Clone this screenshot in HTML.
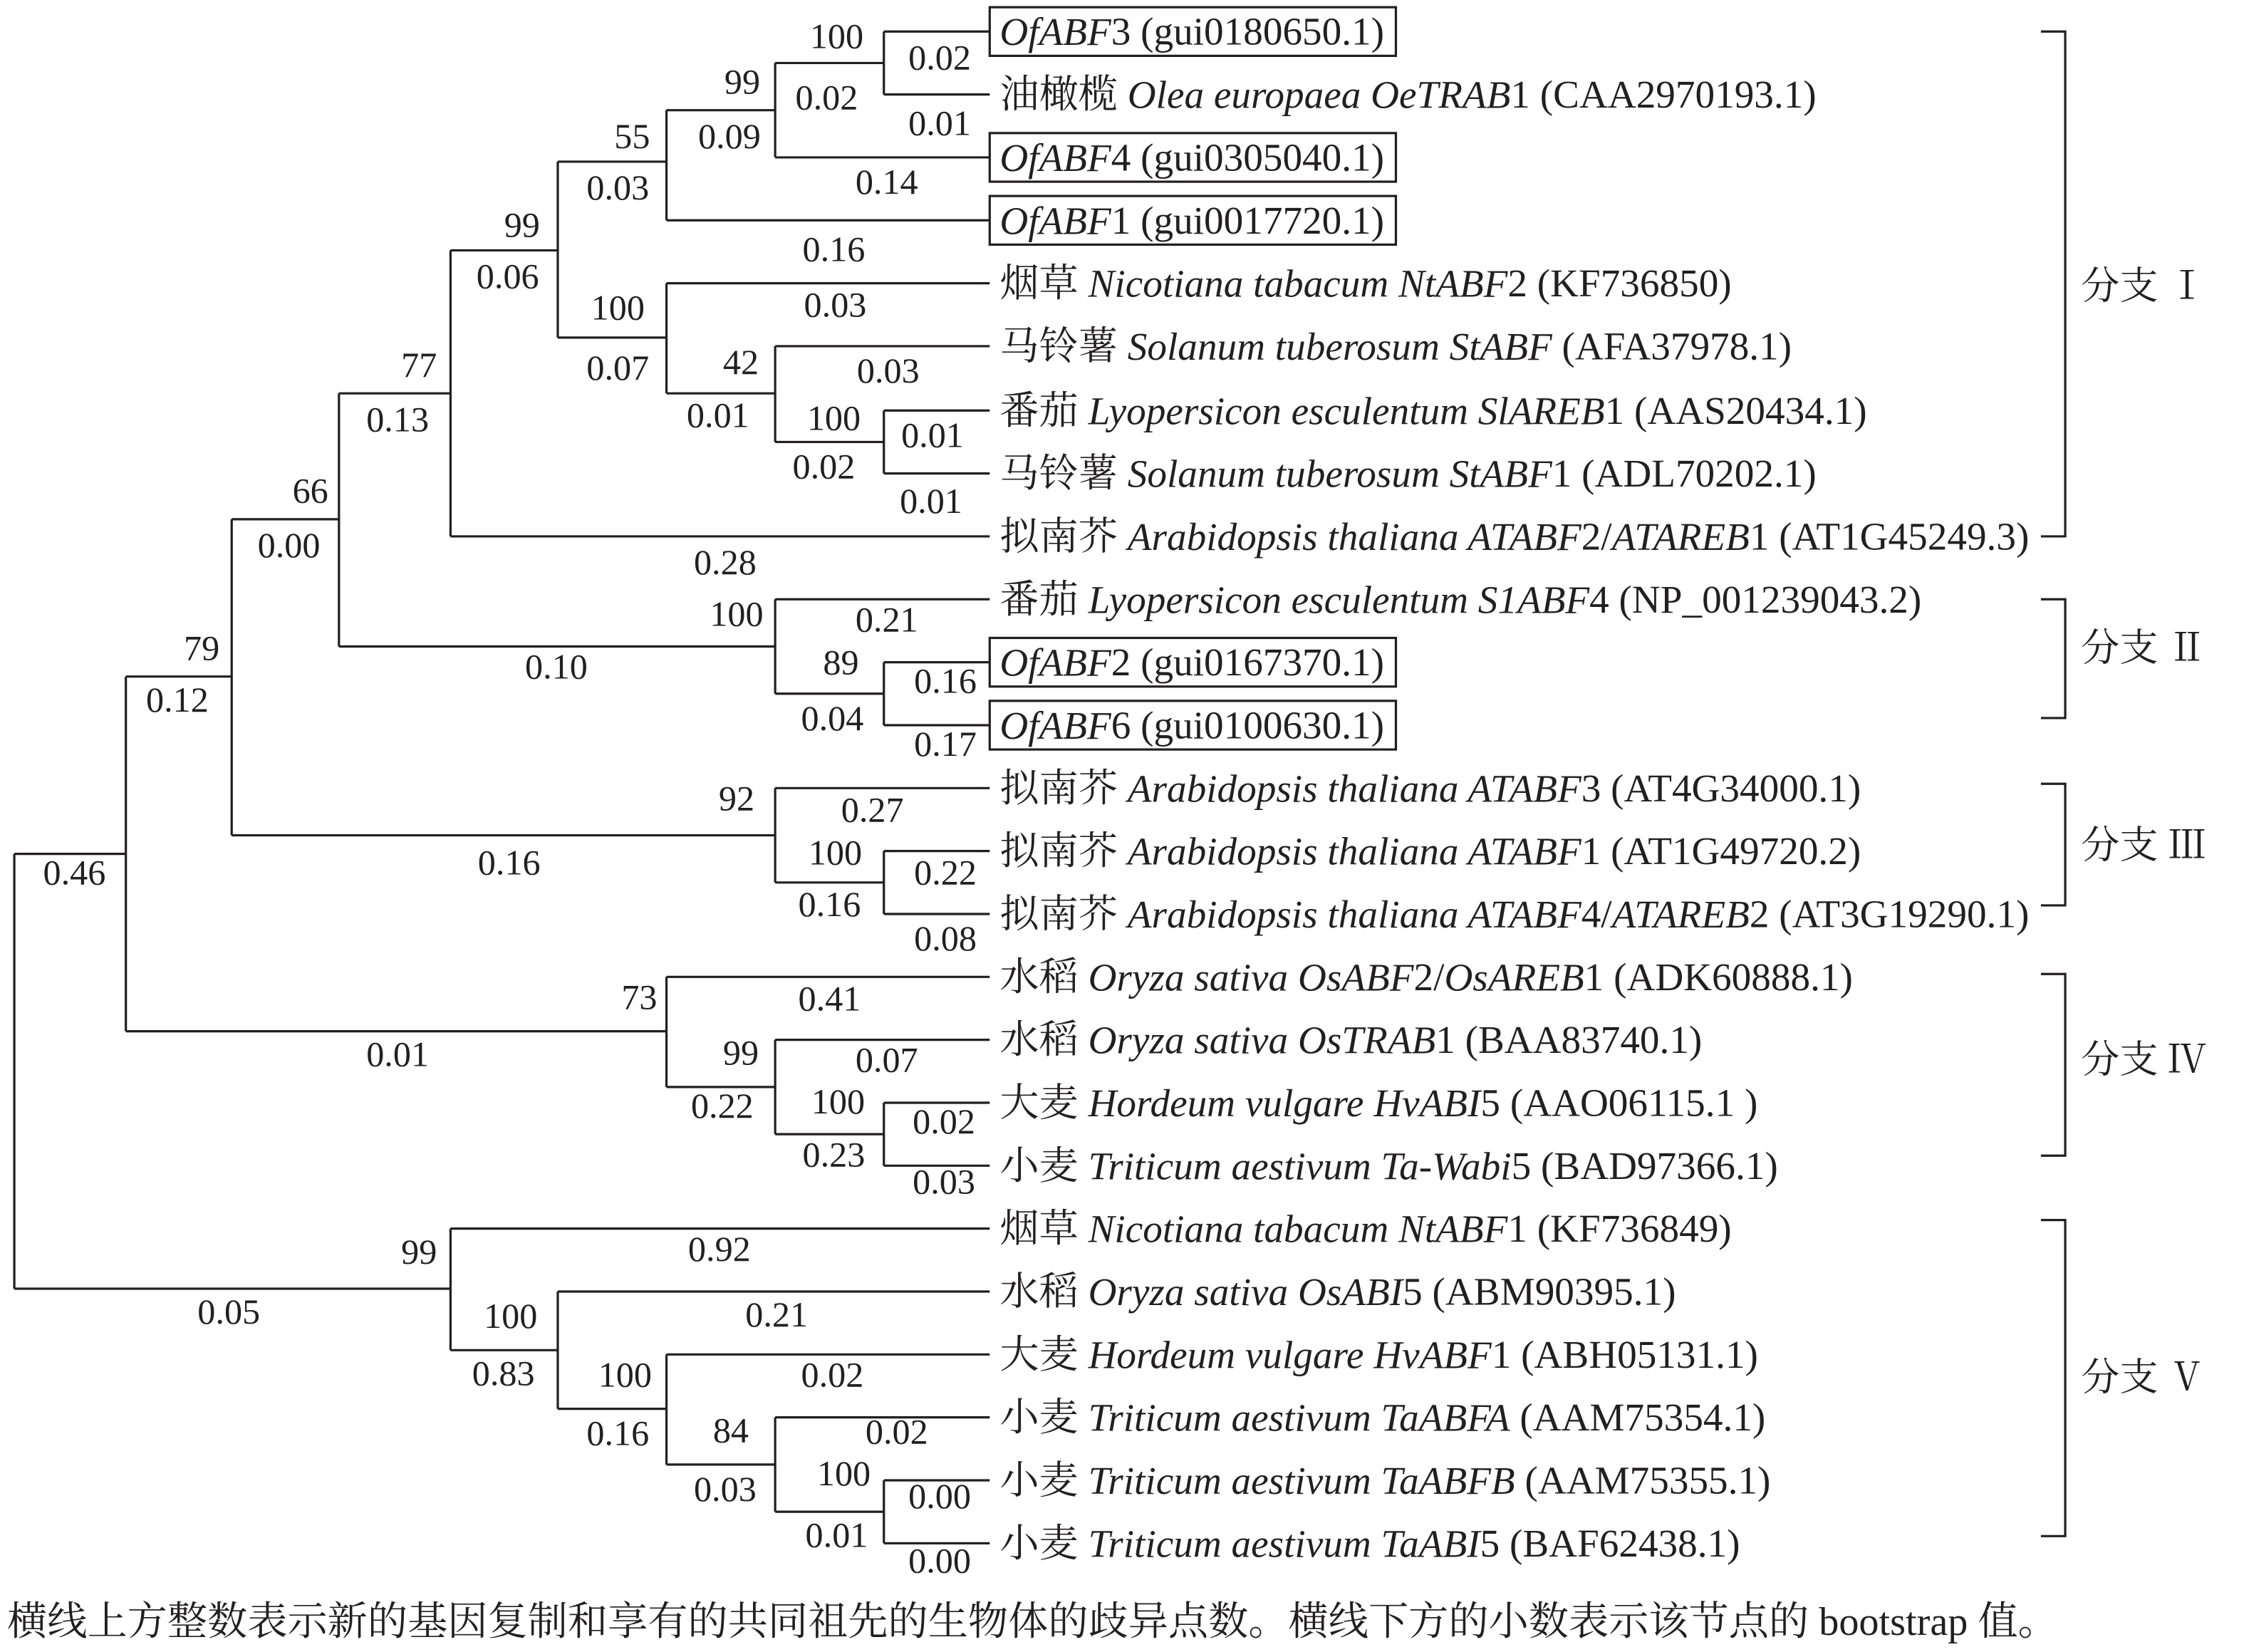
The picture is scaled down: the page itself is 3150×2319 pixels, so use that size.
<!DOCTYPE html>
<html><head><meta charset="utf-8">
<style>
html,body{margin:0;padding:0;background:#fff;}
svg{display:block;}
text{font-family:"Liberation Serif","Noto Serif CJK SC",serif;fill:#231f20;}
.n{font-size:25px;text-anchor:middle;dominant-baseline:central;}
.l{font-size:27.5px;dominant-baseline:central;}
.b{font-size:27px;dominant-baseline:central;}
</style></head><body>
<svg width="3150" height="2319" viewBox="0 0 1569 1155" xmlns="http://www.w3.org/2000/svg">
<g stroke="#231f20" stroke-width="1.6" fill="none">
<path d="M10 597V901M10 597H88M10 901H315"/>
<path d="M88 473V721M88 473H162M88 721H466"/>
<path d="M162 363V584M162 363H237M162 584H542"/>
<path d="M237 275V452M237 275H315M237 452H542"/>
<path d="M315 175V375M315 175H390M315 375H692"/>
<path d="M390 113V236M390 113H466M390 236H466"/>
<path d="M466 77V154M466 77H542M466 154H692"/>
<path d="M542 44V110M542 44H618M542 110H692"/>
<path d="M618 22V66M618 22H692M618 66H692"/>
<path d="M466 198V275M466 198H692M466 275H542"/>
<path d="M542 242V309M542 242H692M542 309H618"/>
<path d="M618 287V331M618 287H692M618 331H692"/>
<path d="M542 419V485M542 419H692M542 485H618"/>
<path d="M618 463V507M618 463H692M618 507H692"/>
<path d="M542 551V617M542 551H692M542 617H618"/>
<path d="M618 595V639M618 595H692M618 639H692"/>
<path d="M466 683V760M466 683H692M466 760H542"/>
<path d="M542 727V793M542 727H692M542 793H618"/>
<path d="M618 771V815M618 771H692M618 815H692"/>
<path d="M315 859V944M315 859H692M315 944H390"/>
<path d="M390 903V985M390 903H692M390 985H466"/>
<path d="M466 947V1024M466 947H692M466 1024H542"/>
<path d="M542 991V1057M542 991H692M542 1057H618"/>
<path d="M618 1035V1079M618 1035H692M618 1079H692"/>
<rect x="692" y="5" width="284" height="34"/>
<rect x="692" y="93" width="284" height="34"/>
<rect x="692" y="137" width="284" height="34"/>
<rect x="692" y="446" width="284" height="34"/>
<rect x="692" y="490" width="284" height="34"/>
<path d="M1427 22H1444V375H1427"/>
<path d="M1427 419H1444V502H1427"/>
<path d="M1427 548H1444V633H1427"/>
<path d="M1427 681H1444V808H1427"/>
<path d="M1427 853H1444V1074H1427"/>
</g>
<g class="n">
<text x="585" y="25">100</text><text x="657" y="40">0.02</text>
<text x="519" y="57">99</text><text x="578" y="68">0.02</text><text x="657" y="86">0.01</text><text x="510" y="95">0.09</text>
<text x="442" y="95">55</text><text x="432" y="131">0.03</text><text x="620" y="127">0.14</text>
<text x="365" y="157">99</text><text x="355" y="193">0.06</text><text x="583" y="174">0.16</text>
<text x="432" y="215">100</text><text x="584" y="213">0.03</text><text x="432" y="257">0.07</text>
<text x="293" y="255">77</text><text x="278" y="293">0.13</text>
<text x="518" y="253">42</text><text x="621" y="259">0.03</text><text x="502" y="290">0.01</text>
<text x="583" y="292">100</text><text x="652" y="304">0.01</text><text x="576" y="326">0.02</text><text x="651" y="350">0.01</text>
<text x="217" y="343">66</text><text x="202" y="381">0.00</text><text x="507" y="393">0.28</text>
<text x="515" y="429">100</text><text x="620" y="433">0.21</text><text x="389" y="466">0.10</text>
<text x="588" y="463">89</text><text x="661" y="476">0.16</text><text x="582" y="502">0.04</text><text x="661" y="520">0.17</text>
<text x="141" y="453">79</text><text x="124" y="489">0.12</text>
<text x="515" y="558">92</text><text x="610" y="566">0.27</text><text x="356" y="603">0.16</text>
<text x="584" y="596">100</text><text x="661" y="610">0.22</text><text x="580" y="632">0.16</text><text x="661" y="656">0.08</text>
<text x="52" y="610">0.46</text>
<text x="447" y="697">73</text><text x="580" y="698">0.41</text><text x="278" y="737">0.01</text>
<text x="518" y="736">99</text><text x="620" y="741">0.07</text><text x="586" y="770">100</text><text x="505" y="773">0.22</text>
<text x="660" y="784">0.02</text><text x="583" y="807">0.23</text><text x="660" y="826">0.03</text>
<text x="293" y="875">99</text><text x="503" y="873">0.92</text><text x="160" y="917">0.05</text>
<text x="357" y="920">100</text><text x="543" y="919">0.21</text><text x="352" y="960">0.83</text>
<text x="437" y="961">100</text><text x="582" y="961">0.02</text><text x="432" y="1002">0.16</text>
<text x="511" y="1000">84</text><text x="627" y="1001">0.02</text><text x="507" y="1041">0.03</text>
<text x="590" y="1030">100</text><text x="657" y="1046">0.00</text><text x="585" y="1073">0.01</text><text x="657" y="1091">0.00</text>
</g>
<g class="l">
<text x="699" y="22"><tspan font-style="italic">OfABF</tspan>3 (gui0180650.1)</text>
<text x="699" y="66">油橄榄 <tspan font-style="italic">Olea europaea OeTRAB</tspan>1 (CAA2970193.1)</text>
<text x="699" y="110"><tspan font-style="italic">OfABF</tspan>4 (gui0305040.1)</text>
<text x="699" y="154"><tspan font-style="italic">OfABF</tspan>1 (gui0017720.1)</text>
<text x="699" y="198">烟草 <tspan font-style="italic">Nicotiana tabacum NtABF</tspan>2 (KF736850)</text>
<text x="699" y="242">马铃薯 <tspan font-style="italic">Solanum tuberosum StABF</tspan> (AFA37978.1)</text>
<text x="699" y="287">番茄 <tspan font-style="italic">Lyopersicon esculentum SlAREB</tspan>1 (AAS20434.1)</text>
<text x="699" y="331">马铃薯 <tspan font-style="italic">Solanum tuberosum StABF</tspan>1 (ADL70202.1)</text>
<text x="699" y="375">拟南芥 <tspan font-style="italic">Arabidopsis thaliana ATABF</tspan>2/<tspan font-style="italic">ATAREB</tspan>1 (AT1G45249.3)</text>
<text x="699" y="419">番茄 <tspan font-style="italic">Lyopersicon esculentum S1ABF</tspan>4 (NP_001239043.2)</text>
<text x="699" y="463"><tspan font-style="italic">OfABF</tspan>2 (gui0167370.1)</text>
<text x="699" y="507"><tspan font-style="italic">OfABF</tspan>6 (gui0100630.1)</text>
<text x="699" y="551">拟南芥 <tspan font-style="italic">Arabidopsis thaliana ATABF</tspan>3 (AT4G34000.1)</text>
<text x="699" y="595">拟南芥 <tspan font-style="italic">Arabidopsis thaliana ATABF</tspan>1 (AT1G49720.2)</text>
<text x="699" y="639">拟南芥 <tspan font-style="italic">Arabidopsis thaliana ATABF</tspan>4/<tspan font-style="italic">ATAREB</tspan>2 (AT3G19290.1)</text>
<text x="699" y="683">水稻 <tspan font-style="italic">Oryza sativa OsABF</tspan>2/<tspan font-style="italic">OsAREB</tspan>1 (ADK60888.1)</text>
<text x="699" y="727">水稻 <tspan font-style="italic">Oryza sativa OsTRAB</tspan>1 (BAA83740.1)</text>
<text x="699" y="771">大麦 <tspan font-style="italic">Hordeum vulgare HvABI</tspan>5 (AAO06115.1 )</text>
<text x="699" y="815">小麦 <tspan font-style="italic">Triticum aestivum Ta-Wabi</tspan>5 (BAD97366.1)</text>
<text x="699" y="859">烟草 <tspan font-style="italic">Nicotiana tabacum NtABF</tspan>1 (KF736849)</text>
<text x="699" y="903">水稻 <tspan font-style="italic">Oryza sativa OsABI</tspan>5 (ABM90395.1)</text>
<text x="699" y="947">大麦 <tspan font-style="italic">Hordeum vulgare HvABF</tspan>1 (ABH05131.1)</text>
<text x="699" y="991">小麦 <tspan font-style="italic">Triticum aestivum TaABFA</tspan> (AAM75354.1)</text>
<text x="699" y="1035">小麦 <tspan font-style="italic">Triticum aestivum TaABFB</tspan> (AAM75355.1)</text>
<text x="699" y="1079">小麦 <tspan font-style="italic">Triticum aestivum TaABI</tspan>5 (BAF62438.1)</text>
</g>
<g class="b">
<text x="1455" y="200">分支 Ⅰ</text>
<text x="1455" y="453">分支 Ⅱ</text>
<text x="1455" y="591">分支 Ⅲ</text>
<text x="1455" y="741">分支 Ⅳ</text>
<text x="1455" y="963">分支 Ⅴ</text>
</g>
<text x="5" y="1134" style="font-size:28px;dominant-baseline:central;">横线上方整数表示新的基因复制和享有的共同祖先的生物体的歧异点数。横线下方的小数表示该节点的 bootstrap 值。</text>
</svg>
</body></html>
